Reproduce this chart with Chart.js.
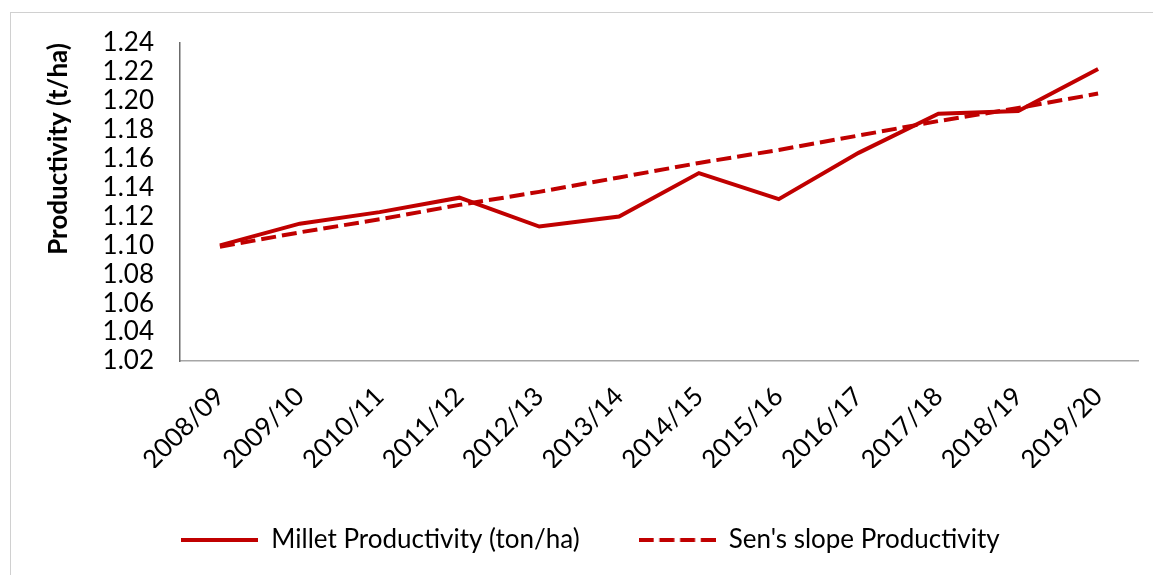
<!DOCTYPE html>
<html>
<head>
<meta charset="utf-8">
<title>Millet productivity</title>
<script src="https://cdn.jsdelivr.net/npm/chart.js@4.4.1/dist/chart.umd.min.js"></script>
<style>
  body { margin: 0; background: #fff; overflow: hidden; }
  #frame {
    position: absolute; left: 10px; top: 12px;
    width: 1160px; height: 600px;
    border: 1px solid #d0d0d0;
  }
  #myChart { position: absolute; left: 0; top: 0; }
</style>
</head>
<body>
<div id="frame"></div>
<canvas id="myChart" width="1153" height="575"></canvas>
<script>
const seasons = [
  "2008/09", "2009/10", "2010/11", "2011/12", "2012/13", "2013/14",
  "2014/15", "2015/16", "2016/17", "2017/18", "2018/19", "2019/20",
];
const milletProductivity = [
  1.100, 1.115, 1.123, 1.133, 1.113, 1.120,
  1.150, 1.132, 1.164, 1.191, 1.193, 1.222,
];
const sensSlope = [
  1.099, 1.109, 1.118, 1.128, 1.137, 1.147,
  1.157, 1.166, 1.176, 1.186, 1.195, 1.205,
];

const red = "#c00000";
const fontFamily = "Lato, 'Open Sans', sans-serif";
const keyWidth = 77;

// small line sample used as the legend key (legend point styles ignore borderDash)
function legendKey(dash) {
  const key = document.createElement("canvas");
  key.width = keyWidth;
  key.height = 4;
  const k = key.getContext("2d");
  k.strokeStyle = red;
  k.lineWidth = 4;
  k.setLineDash(dash);
  k.beginPath();
  k.moveTo(0, 2);
  k.lineTo(keyWidth, 2);
  k.stroke();
  return key;
}

const data = {
  labels: seasons,
  datasets: [
    {
      label: "Millet Productivity (ton/ha)",
      data: milletProductivity,
      borderColor: red,
      backgroundColor: red,
      borderWidth: 4,
      pointRadius: 0,
      pointStyle: legendKey([]),
      tension: 0,
    },
    {
      label: "Sen's slope Productivity",
      data: sensSlope,
      borderColor: red,
      backgroundColor: red,
      borderWidth: 4,
      borderDash: [15, 6],
      pointRadius: 0,
      pointStyle: legendKey([15, 5.7]),
      tension: 0,
    },
  ],
};

const ctx = document.getElementById("myChart").getContext("2d");
new Chart(ctx, {
  type: "line",
  data: data,
  options: {
    responsive: false,
    animation: false,
    devicePixelRatio: 1,
    layout: {
      padding: { top: 43, left: 43, right: 15, bottom: 12 },
    },
    plugins: {
      tooltip: { enabled: false },
      legend: {
        position: "bottom",
        labels: {
          usePointStyle: true,
          pointStyleWidth: keyWidth,
          padding: 59,
          color: "#000",
          font: { family: fontFamily, size: 26 },
        },
      },
    },
    scales: {
      x: {
        offset: true,
        grid: { drawOnChartArea: false, drawTicks: false },
        border: { color: "#a6a6a6", width: 1.5 },
        ticks: {
          autoSkip: false,
          minRotation: 45,
          maxRotation: 45,
          padding: 20,
          color: "#000",
          font: { family: fontFamily, size: 26 },
        },
        afterFit: (scale) => {
          scale.height = 107;
        },
      },
      y: {
        min: 1.02,
        max: 1.24,
        grid: { drawOnChartArea: false, drawTicks: false },
        border: { color: "#6b6b6b", width: 1.5 },
        ticks: {
          stepSize: 0.02,
          autoSkip: false,
          padding: 26,
          color: "#000",
          font: { family: fontFamily, size: 26, lineHeight: 0.5 },
          callback: (value) => value.toFixed(2),
        },
        title: {
          display: true,
          text: "Productivity (t/ha)",
          align: "end",
          padding: 0,
          color: "#000",
          font: { family: fontFamily, size: 26, weight: "bold" },
        },
        afterFit: (scale) => {
          scale.width = 137;
        },
      },
    },
  },
});
</script>
</body>
</html>
